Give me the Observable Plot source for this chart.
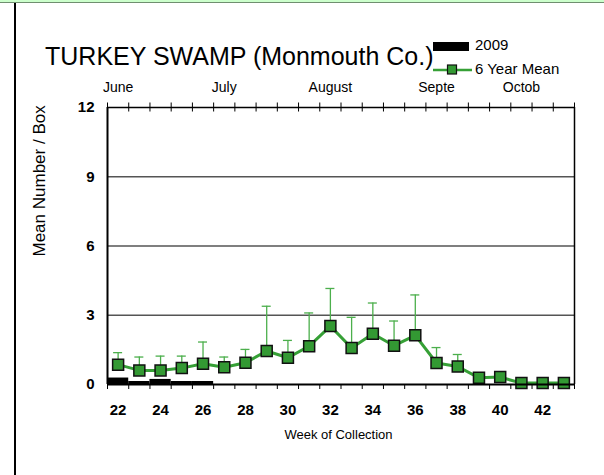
<!DOCTYPE html>
<html><head><meta charset="utf-8">
<script src="https://cdn.jsdelivr.net/npm/d3@7"></script>
<script src="https://cdn.jsdelivr.net/npm/@observablehq/plot@0.6"></script>
<style>
body{margin:0;background:#fff;font-family:Arial,"Liberation Sans",sans-serif;}
#wrap{position:relative;width:604px;height:475px;overflow:hidden;background:#fff;}
#topbar{position:absolute;left:0;top:0;width:604px;height:2px;background:#ccffcc;border-bottom:1px solid #6f8f6f;}
#leftbar{position:absolute;left:14px;top:3px;width:2px;height:472px;background:#000;}
#chart{position:absolute;left:0;top:0;}
#over{position:absolute;left:0;top:0;}
</style></head>
<body>
<div id="wrap"><div id="chart"></div><svg id="over" width="604" height="475"></svg><div id="topbar"></div><div id="leftbar"></div></div>
<script>
const weeks = [22,23,24,25,26,27,28,29,30,31,32,33,34,35,36,37,38,39,40,41,42,43];
const meanValues = [0.86,0.61,0.61,0.71,0.90,0.75,0.94,1.45,1.16,1.66,2.53,1.58,2.20,1.68,2.13,0.93,0.78,0.29,0.32,0.06,0.07,0.07];
const upperValues = [1.38,1.19,1.23,1.23,1.84,1.19,1.52,3.39,1.91,3.10,4.16,2.91,3.53,2.75,3.88,1.60,1.30,0.29,0.32,0.06,0.07,0.07];
const weeks2009 = [22,23,24,25,26];
const values2009 = [0.28,0.13,0.22,0.13,0.13];
const evenWeekTicks = [22,24,26,28,30,32,34,36,38,40,42];
const yTicks = [0,3,6,9,12];
const gridValues = [3,6,9];
const monthNames = ["June","July","August","Septe","Octob"];
const monthWeeks = [22,27,32,37,41];
const title = "TURKEY SWAMP (Monmouth Co.)";
const legendLabels = ["2009","6 Year Mean"];

const meanData = weeks.map((w,i)=>({week:w, mean:meanValues[i], upper:upperValues[i]}));
const barData = weeks2009.map((w,i)=>({week:w, value:values2009[i]}));
const bounds = d3.range(weeks[0]-0.5, weeks[weeks.length-1]+1, 1);
const months = monthWeeks.map((w,i)=>({week:w, name:monthNames[i]}));

const green = "#339933";
const chart = Plot.plot({
  width: 604, height: 475,
  marginLeft: 107, marginRight: 30, marginTop: 107, marginBottom: 91,
  style: {fontFamily: "Arial, 'Liberation Sans', sans-serif", background: "transparent"},
  x: {domain: [weeks[0]-0.5, weeks[weeks.length-1]+0.5], axis: null, label: null},
  y: {domain: [0, 12], axis: null, label: null},
  marks: [
    Plot.ruleY(gridValues, {stroke: "#555", strokeWidth: 1.5}),
    Plot.rectY(barData, {x1: d => d.week - 0.5, x2: d => d.week + 0.5, y: "value", fill: "#000"}),
    Plot.ruleX(meanData.filter(d => d.upper > d.mean), {x: "week", y1: "mean", y2: "upper", stroke: "#4caf4c", strokeWidth: 1.3}),
    Plot.ruleY(meanData.filter(d => d.upper > d.mean), {y: "upper", x1: "week", x2: "week", insetLeft: -4.5, insetRight: -4.5, stroke: "#4caf4c", strokeWidth: 1.3}),
    Plot.line(meanData, {x: "week", y: "mean", stroke: "#36a036", strokeWidth: 3}),
    Plot.dot(meanData, {x: "week", y: "mean", symbol: "square", r: 6.2, fill: green, stroke: "#111", strokeWidth: 1.5}),
    Plot.ruleY([12], {stroke: "#000", strokeWidth: 1.5}),
    Plot.ruleY([0], {stroke: "#000", strokeWidth: 2}),
    Plot.ruleX([weeks[0]-0.5], {stroke: "#000", strokeWidth: 2}),
    Plot.ruleX([weeks[weeks.length-1]+0.5], {stroke: "#000", strokeWidth: 1.5}),
    Plot.ruleX(bounds, {x: d => d, y1: 12, y2: 12, insetTop: -4.5, insetBottom: -4.5, stroke: "#000", strokeWidth: 1}),
    Plot.axisX({ticks: bounds, tickSize: 5, tickFormat: () => "", label: null, stroke: "#000", strokeWidth: 1}),
    Plot.axisX({ticks: evenWeekTicks, tickSize: 0, tickPadding: 20, label: null, fontSize: 15, fontWeight: "bold", fill: "#000"}),
    Plot.axisY({ticks: yTicks, tickSize: 0, tickPadding: 13, label: null, fontSize: 15, fontWeight: "bold", fill: "#000"}),
    Plot.text(months, {x: "week", y: () => 12, text: "name", dy: -19.5, fontSize: 14, fill: "#000"}),
    Plot.text(["Mean Number / Box"], {frameAnchor: "left", rotate: -90, dx: -68, dy: 10.5, fontSize: 17, fill: "#000"}),
    Plot.text(["Week of Collection"], {frameAnchor: "bottom", dx: -2.5, dy: 54, fontSize: 13, fill: "#000"})
  ]
});
document.getElementById("chart").appendChild(chart);

const over = d3.select("#over");
over.append("text").attr("x", 45).attr("y", 65).attr("font-size", 25).attr("fill", "#000").text(title);
over.append("rect").attr("x", 433).attr("y", 42).attr("width", 36).attr("height", 9).attr("fill", "#000");
over.append("text").attr("x", 475).attr("y", 50).attr("font-size", 15).attr("fill", "#000").text(legendLabels[0]);
over.append("line").attr("x1", 433).attr("x2", 472).attr("y1", 70).attr("y2", 70).attr("stroke", "#36a036").attr("stroke-width", 2.5);
over.append("rect").attr("x", 447.5).attr("y", 65).attr("width", 9).attr("height", 9).attr("fill", green).attr("stroke", "#111").attr("stroke-width", 1.2);
over.append("text").attr("x", 475).attr("y", 74).attr("font-size", 15).attr("fill", "#000").text(legendLabels[1]);
</script>
</body></html>
